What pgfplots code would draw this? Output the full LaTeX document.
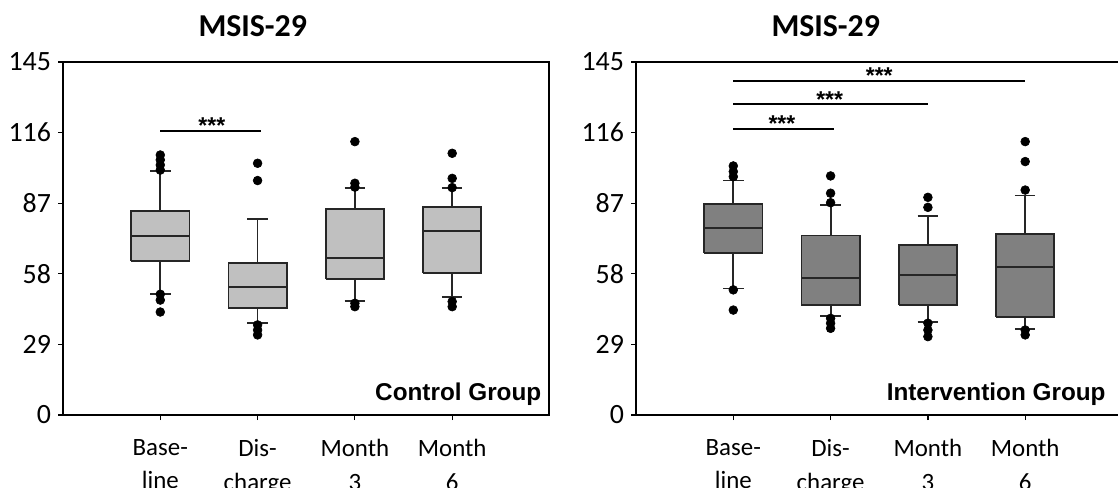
\documentclass[border=0pt]{standalone}
\usepackage{pgfplots}
\pgfplotsset{compat=1.18}
\usepackage{fontspec}
\setmainfont{Carlito}
\newfontfamily\arialf{Liberation Sans}
\definecolor{boxL}{HTML}{C0C0C0}
\definecolor{boxR}{HTML}{808080}
\definecolor{edge}{HTML}{262626}
\tikzset{stars/.style={anchor=base, inner sep=0pt, yshift=-1.5bp, font=\arialf\bfseries\fontsize{11.5}{14}\selectfont}}
\pgfplotsset{
  panel/.style={
    anchor=south west, scale only axis,
    width=243.25bp, height=176.5bp,
    xmin=0, xmax=5, ymin=0, ymax=145,
    ytick={0,29,58,87,116,145},
    xtick={1,2,3,4},
    xticklabels={{Base-\\line},{Dis-\\charge},{Month\\3},{Month\\6}},
    xtick pos=bottom, ytick pos=left, tick align=outside,
    major tick length=2.5bp,
    axis line style={line width=1bp, black},
    every tick/.style={black, line width=0.6bp},
    /pgf/number format/assume math mode=true,
    yticklabel style={font=\fontsize{14}{16}\selectfont},
    xticklabel style={font=\fontsize{12.5}{17}\selectfont, align=center, yshift=-6bp},
    clip=false,
  },
  out/.style={only marks, mark=*, mark size=2.2bp, black, mark options={fill=black, draw=black, line width=0.3bp}},
}
% box: #1 position, #2 lower whisker, #3 lower quartile, #4 median, #5 upper quartile, #6 upper whisker, #7 fill
\newcommand\bxp[7]{%
  \pgfmathsetmacro\bxLeft{#1-0.3}\pgfmathsetmacro\bxRight{#1+0.3}%
  \pgfmathsetmacro\capLeft{#1-0.105}\pgfmathsetmacro\capRight{#1+0.105}%
  \edef\bxTmp{%
    \noexpand\addplot[edge, line width=0.9bp] coordinates {(#1,#2) (#1,#3)};
    \noexpand\addplot[edge, line width=0.9bp] coordinates {(#1,#5) (#1,#6)};
    \noexpand\addplot[edge, line width=0.9bp] coordinates {(\capLeft,#2) (\capRight,#2)};
    \noexpand\addplot[edge, line width=0.9bp] coordinates {(\capLeft,#6) (\capRight,#6)};
    \noexpand\addplot[draw=edge, fill=#7, line width=0.9bp] coordinates {(\bxLeft,#3) (\bxRight,#3) (\bxRight,#5) (\bxLeft,#5) (\bxLeft,#3)};
    \noexpand\addplot[edge, line width=0.9bp] coordinates {(\bxLeft,#4) (\bxRight,#4)};
  }\bxTmp}
\begin{document}
\begin{tikzpicture}
\path[use as bounding box] (0,0) rectangle (559bp,244bp);
\clip (0,0) rectangle (559bp,244bp);
% ---------- Control ----------
\begin{axis}[panel, at={(31.5bp,36.5bp)}]
\bxp{1}{49.8}{63.3}{73.4}{83.7}{100.2}{boxL}
\bxp{2}{37.7}{43.8}{52.6}{62.3}{80.4}{boxL}
\bxp{3}{46.8}{55.9}{64.4}{84.6}{93.1}{boxL}
\bxp{4}{48.6}{58.2}{75.6}{85.6}{93.1}{boxL}
\addplot[out] coordinates {(1,106.8) (1,104.8) (1,102.7) (1,100.6) (1,49.6) (1,47.2) (1,42.3)};
\addplot[out] coordinates {(2,103.4) (2,96.3) (2,37.0) (2,34.9) (2,32.9)};
\addplot[out] coordinates {(3,112.3) (3,95.2) (3,93.6) (3,45.9) (3,44.5)};
\addplot[out] coordinates {(4,107.5) (4,97.2) (4,93.4) (4,46.6) (4,44.5)};
\addplot[black, line width=1bp] coordinates {(1,116.7) (2.03,116.7)};
\node[stars] at (axis cs:1.53,116.7) {***};
\node[anchor=base, inner sep=0pt, yshift=12.5bp, font=\bfseries\fontsize{16}{18}\selectfont] at (axis cs:1.95,145) {MSIS-29};
\node[anchor=base east, inner sep=0pt, font=\arialf\bfseries\fontsize{12.2}{14}\selectfont] at (axis cs:4.92,5.8) {Control Group};
\end{axis}
% ---------- Intervention ----------
\begin{axis}[panel, at={(318bp,36.5bp)}]
\bxp{1}{52.0}{66.7}{76.7}{86.7}{96.3}{boxR}
\bxp{2}{40.7}{45.2}{56.2}{73.7}{86.3}{boxR}
\bxp{3}{38.1}{45.2}{57.4}{69.8}{81.8}{boxR}
\bxp{4}{35.2}{40.4}{60.8}{74.2}{90.2}{boxR}
\addplot[out] coordinates {(1,102.3) (1,100.0) (1,97.9) (1,51.4) (1,43.1)};
\addplot[out] coordinates {(2,98.2) (2,91.1) (2,87.2) (2,39.7) (2,37.7) (2,35.6)};
\addplot[out] coordinates {(3,89.4) (3,85.3) (3,37.7) (3,34.9) (3,32.2)};
\addplot[out] coordinates {(4,112.3) (4,104.1) (4,92.4) (4,34.9) (4,32.9)};
\addplot[black, line width=1bp] coordinates {(1,117.5) (2.03,117.5)};
\addplot[black, line width=1bp] coordinates {(1,127.6) (3.0,127.6)};
\addplot[black, line width=1bp] coordinates {(1,137.3) (4.0,137.3)};
\node[stars] at (axis cs:1.5,117.5) {***};
\node[stars] at (axis cs:1.99,127.6) {***};
\node[stars] at (axis cs:2.5,137.3) {***};
\node[anchor=base, inner sep=0pt, yshift=12.5bp, font=\bfseries\fontsize{16}{18}\selectfont] at (axis cs:1.95,145) {MSIS-29};
\node[anchor=base east, inner sep=0pt, font=\arialf\bfseries\fontsize{12.2}{14}\selectfont] at (axis cs:4.83,5.8) {Intervention Group};
\end{axis}
\end{tikzpicture}
\end{document}
